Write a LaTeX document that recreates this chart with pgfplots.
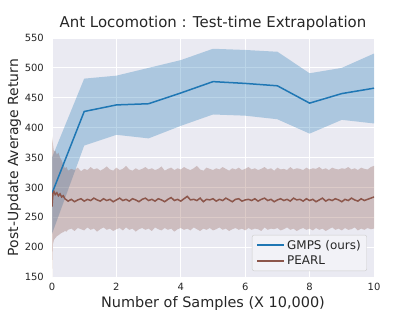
\documentclass[border=0pt]{standalone}
\usepackage{fontspec}
\setmainfont{DejaVu Sans}
\usepackage{pgfplots}
\pgfplotsset{compat=1.18}
\usepackage{pgfplotstable}
\usepgfplotslibrary{fillbetween}
\definecolor{bg}{HTML}{EAEAF2}
\definecolor{tblue}{HTML}{1F77B4}
\definecolor{tbrown}{HTML}{8C564B}
\definecolor{txt}{HTML}{262626}

\pgfplotstableread{
x m lo hi
0 290 222 350
1 427 370 482
2 438 388 487
3 440 382 500
4 458 403 513
5 477 422 532
6 474 420 530
7 470 414 527
8 441 390 491
9 457 413 500
10 466 407 524
}\gmps

\pgfplotstableread{
x m lo hi
0.00 268 150 385
0.03 290 205 372
0.06 293 212 360
0.10 288 215 362
0.15 291 218 355
0.20 286 220 358
0.25 289 222 350
0.30 284 224 345
0.35 286 225 338
0.40 281 227 332
0.45 279 226 334
0.50 277 229 328
0.6 280 231 331
0.7 276 227 329
0.8 279 232 333
0.9 281 230 327
1.0 277 228 331
1.1 280 233 329
1.2 278 229 334
1.3 282 231 330
1.4 279 226 332
1.5 277 230 328
1.6 281 233 331
1.7 278 229 335
1.8 280 231 330
1.9 276 227 328
2.0 279 230 333
2.1 282 232 329
2.2 278 228 331
2.3 280 233 336
2.4 277 229 330
2.5 281 231 328
2.6 279 226 332
2.7 276 230 329
2.8 280 232 331
2.9 282 229 334
3.0 278 231 330
3.1 280 227 332
3.2 277 233 329
3.3 281 230 331
3.4 279 228 335
3.5 276 232 328
3.6 280 229 331
3.7 283 231 333
3.8 278 226 329
3.9 280 230 332
4.0 277 232 330
4.1 281 229 334
4.2 285 231 331
4.3 279 228 329
4.4 280 233 332
4.5 278 230 336
4.6 282 227 330
4.7 276 231 328
4.8 280 229 333
4.9 279 232 331
5.0 281 228 329
5.1 277 230 332
5.2 280 233 330
5.3 278 229 334
5.4 282 231 331
5.5 279 227 328
5.6 276 230 332
5.7 280 232 330
5.8 281 229 333
5.9 277 231 329
6.0 279 228 331
6.1 280 232 334
6.2 278 229 330
6.3 281 231 332
6.4 277 230 329
6.5 280 227 331
6.6 282 233 334
6.7 278 229 330
6.8 280 231 332
6.9 276 230 328
7.0 279 232 333
7.1 281 228 330
7.2 278 230 331
7.3 280 233 329
7.4 277 229 334
7.5 282 231 330
7.6 279 227 332
7.7 280 230 331
7.8 277 232 329
7.9 281 229 333
8.0 278 231 330
8.1 280 228 332
8.2 276 232 331
8.3 279 229 334
8.4 282 231 330
8.5 277 227 332
8.6 280 230 329
8.7 278 233 333
8.8 281 229 331
8.9 279 231 330
9.0 276 228 332
9.1 280 232 331
9.2 278 229 334
9.3 282 230 330
9.4 279 233 332
9.5 277 228 329
9.6 281 231 333
9.7 278 229 331
9.8 280 232 330
9.9 282 230 334
10.0 284 231 336
}\pearl

\begin{document}
\begin{tikzpicture}
\begin{axis}[
  at={(0,0)}, anchor=south west,
  scale only axis, width=322bp, height=239bp,
  xmin=0, xmax=10, ymin=150, ymax=550,
  xtick={0,2,...,10}, ytick={150,200,...,550},
  axis background/.style={fill=bg},
  axis line style={draw=none},
  major tick length=0pt,
  grid=major, major grid style={white, line width=1bp},
  /pgf/number format/assume math mode=true,
  ticklabel style={font=\fontsize{10}{12}\selectfont, text=txt},
  yticklabel style={inner sep=0pt, xshift=-8bp},
  xticklabel style={inner sep=0pt, yshift=-6bp},
  title={Ant Locomotion : Test-time Extrapolation},
  title style={at={(0.5,1)}, anchor=base, yshift=5bp, font=\fontsize{15}{18}\selectfont, text=txt},
  xlabel={Number of Samples (X 10,000)},
  xlabel style={at={(0.5,0)}, anchor=base, yshift=-30bp, font=\fontsize{14.5}{17}\selectfont, text=txt},
  ylabel={Post-Update Average Return},
  ylabel style={at={(0,0.5)}, anchor=base, yshift=34bp, font=\fontsize{14}{17}\selectfont, text=txt},
  legend style={at={(0.978,0.025)}, anchor=south east, font=\fontsize{12}{14}\selectfont,
    fill=bg!60!white, draw=white!80!black, rounded corners=2bp, text=txt,
    inner xsep=4bp, inner ysep=3bp, row sep=1bp},
  legend cell align=left,
  legend image code/.code={\draw[#1, line width=2bp] (0bp,0bp) -- (27bp,0bp);},
]
\addplot[name path=gu, draw=none, forget plot] table[x=x,y=hi]{\gmps};
\addplot[name path=gl, draw=none, forget plot] table[x=x,y=lo]{\gmps};
\addplot[tblue, fill opacity=0.3, draw opacity=0.3, forget plot] fill between[of=gu and gl];
\addplot[tblue, line width=1.5bp] table[x=x,y=m]{\gmps};
\addlegendentry{GMPS (ours)}
\addplot[name path=pu, draw=none, forget plot] table[x=x,y=hi]{\pearl};
\addplot[name path=pl, draw=none, forget plot] table[x=x,y=lo]{\pearl};
\addplot[tbrown, fill opacity=0.3, draw opacity=0.25, forget plot] fill between[of=pu and pl];
\addplot[tbrown, line width=1.5bp] table[x=x,y=m]{\pearl};
\addlegendentry{PEARL}
\end{axis}
\path (-52bp,-35bp) rectangle (364bp,277bp);
\end{tikzpicture}
\end{document}
